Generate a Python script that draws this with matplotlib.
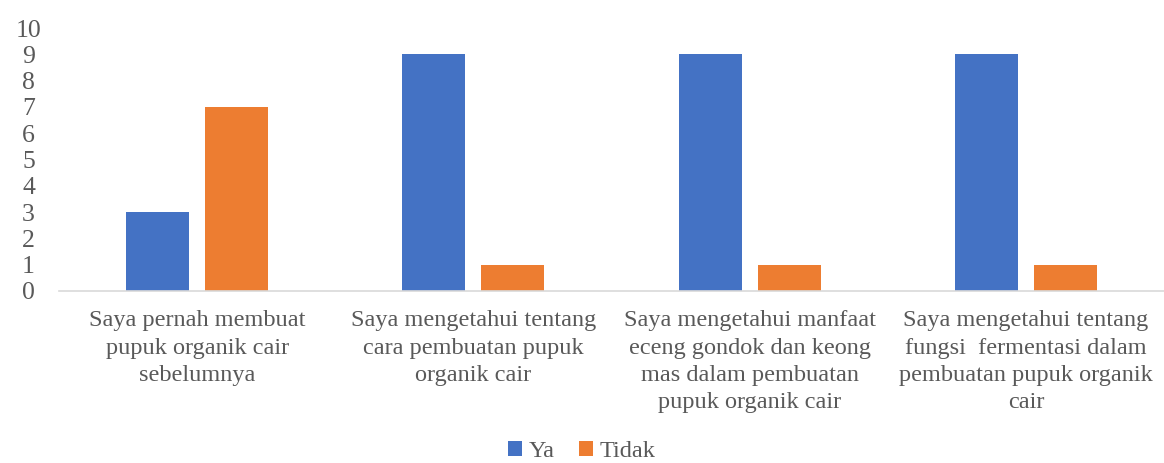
import matplotlib.pyplot as plt
import numpy as np

plt.rcParams['font.family'] = ['Liberation Serif', 'DejaVu Serif']

categories = [
    "Saya pernah membuat\npupuk organik cair\nsebelumnya",
    "Saya mengetahui tentang\ncara pembuatan pupuk\norganik cair",
    "Saya mengetahui manfaat\neceng gondok dan keong\nmas dalam pembuatan\npupuk organik cair",
    "Saya mengetahui tentang\nfungsi  fermentasi dalam\npembuatan pupuk organik\ncair",
]
ya = [3, 9, 9, 9]
tidak = [7, 1, 1, 1]

fig = plt.figure(figsize=(11.64, 4.63), dpi=100)
ax = fig.add_axes([0.0507, 0.3715, 0.9493, 0.568])

x = np.arange(len(categories))
w = 0.228
ax.bar(x - 0.143, ya, w, color='#4472C4', label='Ya')
ax.bar(x + 0.143, tidak, w, color='#ED7D31', label='Tidak')

ax.set_xlim(-0.5, len(categories) - 0.5)
ax.set_ylim(0, 10)
ax.set_yticks(range(0, 11))
ax.set_xticks(x)
ax.set_xticklabels(categories, linespacing=1.38)
ax.tick_params(axis='both', length=0, labelsize=17.5, colors='#595959')
ax.tick_params(axis='y', labelsize=18.5)
ax.tick_params(axis='x', pad=14)
ax.tick_params(axis='y', pad=22)
for t in ax.get_yticklabels():
    t.set_horizontalalignment('center')

for s in ['top', 'right', 'left']:
    ax.spines[s].set_visible(False)
ax.spines['bottom'].set_color('#d9d9d9')
ax.spines['bottom'].set_linewidth(1.2)

leg = fig.legend(loc='lower center', bbox_to_anchor=(0.5, -0.04), ncol=2, frameon=False,
                 fontsize=17.5, handlelength=0.55, handleheight=0.55, handletextpad=0.3,
                 columnspacing=1.0, borderpad=0.3)
for t in leg.get_texts():
    t.set_color('#595959')

fig.savefig('out.png', dpi=100)
